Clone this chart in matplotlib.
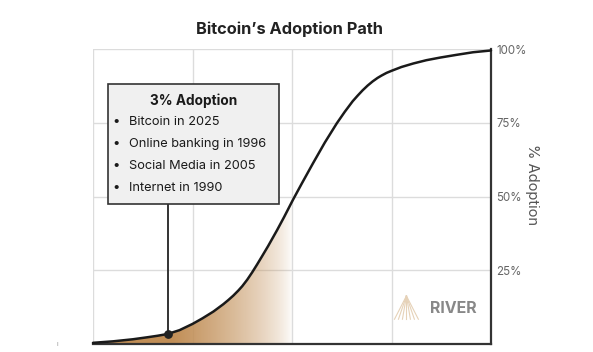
import numpy as np
import matplotlib
matplotlib.use("Agg")
import matplotlib.pyplot as plt
from matplotlib.patches import Rectangle

plt.rcParams['font.family'] = ['Inter', 'DejaVu Sans']

# ---- data ----
title = "Bitcoin\u2019s Adoption Path"
curve_x = [0, 0.2, 0.4, 0.55, 0.65, 0.75, 0.87, 1.0, 1.1, 1.21, 1.31, 1.36, 1.41, 1.46, 1.5,
           1.55, 1.6, 1.65, 1.7, 1.76, 1.85, 1.92, 2.01, 2.1, 2.21, 2.33, 2.45, 2.53, 2.61,
           2.66, 2.71, 2.76, 2.81, 2.86, 2.9, 2.95, 3.0, 3.1, 3.22, 3.35, 3.49, 3.65, 3.82, 4.0]
curve_y = [0.4, 0.9, 1.6, 2.3, 2.8, 3.4, 4.7, 6.8, 8.7, 11.0, 13.5, 14.9, 16.4, 18.1, 19.6,
           21.8, 24.3, 27.0, 29.8, 33.2, 38.6, 43.0, 48.9, 54.5, 61.2, 68.3, 74.8, 78.7, 82.3,
           84.2, 86.0, 87.6, 89.0, 90.2, 91.0, 91.9, 92.6, 93.9, 95.1, 96.2, 97.1, 98.0, 98.9, 99.5]
marker_x = 0.75
marker_y = 3.4
y_ticks = [25, 50, 75, 100]
y_tick_labels = ["25%", "50%", "75%", "100%"]
box_title = "3% Adoption"
box_items = ["Bitcoin in 2025", "Online banking in 1996", "Social Media in 2005", "Internet in 1990"]
y_label = "% Adoption"
brand = "RIVER"

W, H = 593, 352
fig = plt.figure(figsize=(W / 100, H / 100), dpi=100)
ax = fig.add_axes([93 / W, 1 - 344 / H, (491 - 93) / W, (344 - 49) / H])
ax.set_xlim(0, 4)
ax.set_ylim(0, 100)

grid_c = "#dcdcdc"
for gx in [0, 1, 2, 3]:
    ax.axvline(gx, color=grid_c, lw=1.0, zorder=0)
for gy in [25, 50, 75, 100]:
    ax.axhline(gy, color=grid_c, lw=1.0, zorder=0)

for s in ["left", "top"]:
    ax.spines[s].set_visible(False)
for s in ["right", "bottom"]:
    ax.spines[s].set_color("#333333")
    ax.spines[s].set_linewidth(1.6)

ax.set_xticks([])
ax.yaxis.tick_right()
ax.set_yticks(y_ticks)
ax.set_yticklabels(y_tick_labels)
ax.tick_params(axis='y', length=0, pad=4, labelsize=8.3, labelcolor="#666666")

# gradient fill under curve
poly = ax.fill_between(curve_x, curve_y, 0, color="none", lw=0)
gx = np.linspace(0, 4, 400)
alpha = np.clip((2.0 - gx) / 1.2, 0, 1) ** 0.7
rgba = np.zeros((2, gx.size, 4))
rgba[..., 0] = 0.76
rgba[..., 1] = 0.56
rgba[..., 2] = 0.34
rgba[..., 3] = alpha
im = ax.imshow(rgba, extent=[0, 4, 0, 100], aspect='auto', origin='lower', zorder=1,
               interpolation='bilinear')
path = poly.get_paths()[0]
im.set_clip_path(path, transform=ax.transData)

ax.plot(curve_x, curve_y, color="#1a1a1a", lw=1.8, zorder=3, clip_on=False,
        solid_capstyle='round', solid_joinstyle='round')

# box
bx0, bx1 = 0.15, 1.87
by0, by1 = 47.3, 88.2
ax.plot([marker_x, marker_x], [marker_y, by0], color="#333333", lw=1.4, zorder=2)
ax.add_patch(Rectangle((bx0, by0), bx1 - bx0, by1 - by0, facecolor="#f0f0f0",
                       edgecolor="#333333", lw=1.2, zorder=4))
ax.text((bx0 + bx1) / 2, 82.6, box_title, ha='center', va='center', fontsize=9.8,
        fontweight='bold', color="#1a1a1a", zorder=5)
for i, item in enumerate(box_items):
    yy = 75.2 - i * 7.45
    ax.text(0.23, yy, "\u2022", ha='center', va='center', fontsize=9.5, color="#1a1a1a", zorder=5)
    ax.text(0.36, yy, item, ha='left', va='center', fontsize=9.2, color="#1a1a1a", zorder=5)

ax.scatter([marker_x], [marker_y], s=28, color="#222222", zorder=6, clip_on=False)

# brand
ax.text(3.39, 12.2, brand, ha='left', va='center', fontsize=11.5, fontweight='bold',
        color="#888888", zorder=5)
tri_c = "#e6d2b8"
apex = (3.15, 16.3)
for bxv in np.linspace(3.03, 3.27, 7):
    ax.plot([apex[0], bxv], [apex[1], 8.4], color=tri_c, lw=0.8, zorder=5)

fig.text(290 / W, 1 - 29 / H, title, ha='center', va='center', fontsize=11.8,
         fontweight='bold', color="#222222")
fig.text(532 / W, 1 - 185 / H, y_label, ha='center', va='center', rotation=-90,
         fontsize=10.6, color="#555555")
fig.text(57 / W, 1 - 344 / H, "\u0131", ha='center', va='center', fontsize=5, color="#999999")

fig.savefig("out.png", dpi=100, facecolor="white")
